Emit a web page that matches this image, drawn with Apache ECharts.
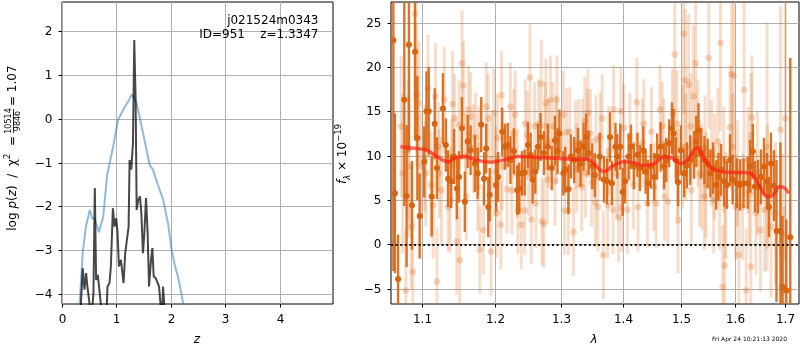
<!DOCTYPE html>
<html>
<head>
<meta charset="utf-8">
<script src="https://cdn.jsdelivr.net/npm/echarts@6/dist/echarts.min.js"></script>
<style>
  html, body { margin: 0; padding: 0; background: #fff; }
  #main { width: 800px; height: 350px; }
</style>
</head>
<body>
<div id="main"></div>
<script>
// left panel: log p(z)
const zBlue = [0.30, 0.34, 0.38, 0.44, 0.51, 0.555, 0.60, 0.636, 0.678, 0.758, 0.83, 0.94, 1.03, 1.10, 1.16, 1.22, 1.28, 1.37, 1.49, 1.61, 1.67, 1.76, 1.86, 1.95, 2.01, 2.07, 2.13, 2.18, 2.23, 2.27];
const pBlue = [-4.6, -3.9, -3.06, -2.46, -2.08, -2.27, -2.28, -2.31, -2.59, -2.23, -1.28, -0.63, -0.02, 0.15, 0.28, 0.40, 0.56, 0.36, -0.33, -1.05, -1.16, -1.5, -1.85, -2.4, -2.95, -3.33, -3.6, -3.9, -4.23, -4.6];

const zDark = [0.332, 0.381, 0.412, 0.443, 0.467, 0.504, 0.54, 0.578, 0.603, 0.627, 0.658, 0.689, 0.714, 0.77, 0.824, 0.836, 0.873, 0.898, 0.935, 0.965, 0.996, 1.021, 1.046, 1.083, 1.107, 1.131, 1.162, 1.193, 1.224, 1.242, 1.273, 1.304, 1.328, 1.353, 1.372, 1.402, 1.433, 1.458, 1.488, 1.513, 1.544, 1.574, 1.599, 1.636, 1.661, 1.685, 1.722, 1.759, 1.784, 1.808, 1.833, 1.857, 1.882, 1.90];
const pDark = [-4.6, -3.41, -3.90, -3.52, -3.83, -4.2, -4.6, -3.98, -1.58, -3.68, -3.56, -3.52, -4.23, -4.6, -4.23, -3.83, -3.75, -3.37, -2.04, -2.46, -2.27, -2.61, -3.37, -3.22, -3.49, -3.75, -3.07, -2.76, -2.46, -0.94, -1.16, -0.55, 1.80, 0.43, -2.08, -1.85, -1.77, -2.15, -3.07, -2.61, -1.81, -2.61, -3.83, -3.22, -2.95, -3.60, -3.64, -3.75, -3.83, -4.2, -4.6, -3.83, -4.3, -4.6];

const pdzXTicks = [0, 1, 2, 3, 4];
const pdzYTicks = [-4, -3, -2, -1, 0, 1, 2];

// right panel: spectrum, rows are [lambda, flux, err]
const specPoints = [
  [1.063, 23.0, 26], [1.065, 5.75, 9], [1.069, -3.9, 5], [1.077, 16.3, 12], [1.080, 5.45, 8], [1.083, 22.5, 12], [1.087, 4.4, 5], [1.091, 21.7, 10], [1.094, 12.0, 7], [1.097, 3.2, 4.8],
  [1.103, 9.3, 4], [1.106, 15.0, 4.5], [1.109, 15.0, 5], [1.113, 5.4, 4.5], [1.117, 13.6, 4], [1.120, 8.6, 3.5], [1.128, 15.3, 4], [1.132, 11.2, 3], [1.135, 7.4, 3.2], [1.139, 7.1, 3],
  [1.143, 9.9, 3.1], [1.147, 6.3, 3.5], [1.150, 7.6, 2.9], [1.154, 13.1, 3.5], [1.158, 4.8, 3.4], [1.162, 11.6, 3], [1.166, 10.6, 2.8], [1.172, 9.1, 3.2], [1.176, 8.0, 2.9], [1.181, 13.5, 3.1],
  [1.185, 7.4, 3], [1.188, 10.8, 2.8], [1.191, 4.2, 3.4], [1.193, 5.6, 3], [1.202, 6.7, 3],
  [1.205, 7.6, 2.8], [1.211, 12.7, 2.7], [1.215, 11.0, 2.6], [1.219, 11.2, 2.5], [1.223, 9.5, 2.7], [1.228, 10.5, 2.6], [1.233, 6.1, 2.8], [1.236, 6.3, 2.9], [1.240, 8.0, 2.5], [1.244, 8.1, 2.6],
  [1.249, 11.2, 2.6], [1.253, 10.1, 2.5], [1.256, 7.3, 2.7], [1.260, 8.2, 2.5], [1.264, 11.0, 2.6], [1.268, 12.1, 2.7], [1.273, 10.3, 2.5], [1.279, 11.0, 2.6], [1.285, 8.6, 2.5], [1.290, 11.7, 2.8],
  [1.294, 10.5, 2.6], [1.297, 12.5, 2.7], [1.303, 8.0, 2.5], [1.306, 8.4, 2.6], [1.311, 6.2, 2.8], [1.315, 9.9, 2.5], [1.320, 9.5, 2.6], [1.326, 10.6, 2.5], [1.330, 9.1, 2.6], [1.335, 11.0, 2.7],
  [1.339, 12.1, 2.6], [1.343, 10.3, 2.5], [1.349, 8.8, 2.6], [1.353, 7.8, 2.5], [1.361, 9.9, 2.7], [1.368, 7.3, 2.6],
  [1.373, 7.1, 2.6], [1.378, 12.1, 2.8], [1.381, 6.9, 2.5], [1.387, 11.0, 2.7], [1.390, 9.9, 2.5], [1.395, 11.0, 2.6], [1.399, 5.9, 2.7], [1.403, 7.1, 2.5], [1.409, 9.9, 2.6], [1.413, 11.0, 2.5],
  [1.418, 8.8, 2.6], [1.424, 10.1, 2.5], [1.428, 8.6, 2.6], [1.434, 10.6, 2.7], [1.438, 8.2, 2.5], [1.442, 6.9, 2.6], [1.447, 8.8, 2.5], [1.453, 7.6, 2.7], [1.458, 9.9, 2.6], [1.464, 11.0, 2.8],
  [1.470, 8.8, 2.6], [1.474, 9.5, 2.5], [1.479, 11.4, 2.7], [1.484, 13.1, 2.9], [1.487, 12.5, 2.8], [1.491, 9.5, 2.6], [1.495, 7.0, 2.7], [1.500, 10.6, 2.8], [1.506, 8.0, 2.7], [1.511, 8.9, 2.6],
  [1.517, 9.5, 2.8], [1.524, 10.1, 2.7], [1.528, 11.6, 2.9], [1.532, 12.9, 3.0], [1.537, 10.3, 2.8], [1.543, 9.5, 2.7],
  [1.549, 9.1, 2.8], [1.554, 8.0, 2.7], [1.559, 8.6, 2.9], [1.565, 6.7, 2.8], [1.569, 7.6, 2.7], [1.574, 8.4, 2.9], [1.580, 7.1, 2.8], [1.585, 6.7, 2.7], [1.591, 9.5, 2.9], [1.596, 7.3, 2.8],
  [1.604, 6.9, 2.8], [1.610, 6.7, 2.9], [1.617, 6.9, 2.8], [1.625, 6.9, 2.9], [1.630, 8.8, 3.0], [1.635, 10.5, 3.1], [1.639, 6.5, 2.9], [1.645, 6.5, 3.0], [1.651, 7.6, 3.1], [1.657, 8.8, 3.2],
  [1.663, 7.1, 3.2], [1.667, 4.2, 3.4], [1.671, 9.1, 3.5], [1.677, 6.6, 4], [1.682, 1.5, 8], [1.690, 1.5, 10], [1.694, -4.8, 8], [1.702, -5.2, 8], [1.710, 0.8, 20.2]
];

const otherPoints = [
  [1.073, 13.3, 8], [1.075, 8.0, 9], [1.079, -5.2, 7], [1.082, 10.6, 8], [1.083, 8.8, 8], [1.086, 2.0, 7], [1.088, -3.1, 6], [1.091, 26.0, 10], [1.093, 16.8, 8], [1.096, 15.9, 7], [1.099, 8.8, 6],
  [1.104, 9.7, 6], [1.105, 8.0, 6], [1.108, 17.6, 6], [1.112, 6.7, 6], [1.115, 4.4, 6], [1.118, 16.7, 6], [1.120, -4.2, 6], [1.122, 11.0, 5], [1.123, 8.0, 5], [1.126, 6.1, 6],
  [1.130, 16.3, 6], [1.135, 4.2, 5], [1.138, 5.0, 6], [1.140, 9.1, 5], [1.141, 15.8, 6], [1.144, 14.2, 5], [1.147, 0.3, 6], [1.150, 13.5, 5], [1.151, -1.8, 6], [1.154, 20.4, 6],
  [1.156, 17.9, 5], [1.159, 9.9, 5], [1.160, 5.4, 5], [1.163, 15.2, 5], [1.166, 14.4, 5], [1.170, 10.8, 5], [1.173, 12.1, 5], [1.176, 6.5, 5], [1.177, 10.5, 5], [1.179, -0.6, 5],
  [1.184, 1.6, 5], [1.188, 15.5, 5], [1.191, 14.2, 5], [1.195, -0.8, 5], [1.196, 9.5, 5], [1.199, 14.8, 5],
  [1.202, 8.2, 5], [1.203, 3.5, 5], [1.204, 12.0, 5], [1.209, 2.2, 5], [1.210, 16.8, 5], [1.211, 8.8, 5], [1.218, 6.2, 5], [1.223, 15.5, 5], [1.225, 6.1, 5], [1.228, 12.5, 5],
  [1.230, 14.6, 5], [1.233, 8.0, 5], [1.234, 3.9, 5], [1.239, 2.2, 5], [1.244, 3.8, 5], [1.245, 13.6, 5], [1.248, 12.3, 5], [1.250, 8.2, 5], [1.252, 18.8, 6], [1.254, 2.8, 5],
  [1.259, 13.3, 5], [1.261, 4.6, 5], [1.265, 13.6, 5], [1.269, 18.1, 5], [1.270, 2.6, 5], [1.273, 2.3, 5], [1.275, 13.3, 5], [1.276, 15.9, 5], [1.278, 7.3, 5], [1.280, 11.4, 5],
  [1.283, 16.3, 5], [1.287, 13.3, 5], [1.290, 7.1, 5], [1.292, 11.8, 5], [1.293, 16.3, 5],
  [1.303, 14.6, 5], [1.305, 3.8, 5], [1.308, 12.6, 5], [1.311, 3.8, 5], [1.313, 12.7, 5], [1.319, 1.4, 5], [1.322, 11.2, 5], [1.324, 8.6, 5], [1.327, 11.4, 5], [1.332, 6.5, 5],
  [1.333, 11.4, 5], [1.337, 13.9, 5], [1.338, 8.0, 5], [1.341, 12.5, 5], [1.342, 14.8, 5], [1.346, 12.5, 5], [1.348, 7.0, 5], [1.354, 4.7, 5], [1.355, 11.8, 5], [1.358, 4.2, 5],
  [1.362, 12.1, 5], [1.365, 14.2, 5], [1.367, -1.2, 5],
  [1.374, 4.4, 6], [1.376, 10.6, 5], [1.383, 3.9, 5], [1.384, 15.2, 5], [1.389, 8.0, 5], [1.392, 3.0, 5], [1.396, 15.0, 5], [1.397, 4.1, 5], [1.401, 13.1, 5], [1.407, 3.9, 5],
  [1.411, 12.1, 5], [1.417, 6.7, 5], [1.423, 16.0, 5], [1.425, 4.2, 5], [1.432, 11.4, 5], [1.435, 13.6, 5], [1.441, 4.6, 5], [1.448, 12.7, 5], [1.452, 6.5, 5], [1.456, 4.6, 5],
  [1.463, 15.2, 5], [1.467, 13.3, 5], [1.470, 11.4, 5], [1.471, 5.4, 5], [1.477, 4.8, 5], [1.485, 14.8, 5], [1.489, 21.4, 7], [1.493, 13.6, 6], [1.494, 8.0, 5], [1.495, 2.7, 6],
  [1.503, 11.0, 7], [1.505, 23.7, 9], [1.508, 18.5, 8], [1.509, 11.0, 6], [1.514, 18.0, 8], [1.518, 13.3, 6], [1.519, 6.1, 6], [1.523, 16.7, 8], [1.527, 20.4, 9], [1.531, 12.5, 6],
  [1.534, 8.0, 6], [1.538, 7.6, 6], [1.543, 5.4, 6], [1.544, 10.8, 6], [1.546, 6.7, 6], [1.551, 21.0, 8], [1.556, 10.3, 6], [1.560, 5.0, 6], [1.562, 8.8, 6], [1.568, 11.6, 6],
  [1.571, 5.4, 6], [1.573, 22.7, 10], [1.577, -4.8, 7], [1.579, 9.5, 6], [1.581, -2.4, 7], [1.583, 4.4, 6], [1.591, 13.2, 7], [1.594, 19.2, 12], [1.596, 11.0, 6], [1.598, 19.0, 12],
  [1.602, 4.2, 6], [1.605, 8.0, 6], [1.608, -1.2, 7], [1.615, 4.2, 6], [1.618, 17.4, 12], [1.622, -5.2, 7], [1.626, 9.5, 6], [1.628, 5.9, 6], [1.631, -2.5, 8], [1.632, 12.3, 7],
  [1.633, 14.3, 7], [1.641, 3.5, 7], [1.644, 8.0, 7], [1.650, 1.6, 7], [1.658, 3.9, 7], [1.663, 11.0, 14], [1.664, 6.5, 7], [1.671, 2.0, 8], [1.680, 3.5, 8], [1.690, 12.9, 14],
  [1.694, 1.2, 9], [1.697, -4.8, 9], [1.700, 14.2, 16]
];

const modelWave = [1.072, 1.093, 1.107, 1.120, 1.135, 1.143, 1.157, 1.175, 1.194, 1.213, 1.233, 1.263, 1.293, 1.314, 1.341, 1.351, 1.368, 1.384, 1.400, 1.418, 1.435, 1.453, 1.471, 1.485, 1.500, 1.512, 1.522, 1.531, 1.540, 1.556, 1.574, 1.593, 1.618, 1.635, 1.651, 1.661, 1.671, 1.680, 1.687, 1.697, 1.707];
const modelFlux = [11.0, 10.8, 10.6, 9.9, 9.3, 9.7, 9.9, 9.5, 9.25, 9.5, 9.9, 9.8, 9.7, 9.6, 9.6, 9.1, 8.2, 8.9, 9.3, 9.2, 8.9, 9.1, 9.9, 9.7, 9.1, 9.5, 10.5, 10.9, 9.9, 8.6, 8.2, 8.1, 8.1, 7.8, 6.3, 5.45, 5.4, 5.9, 6.5, 6.4, 5.75];

const specXTicks = [1.1, 1.2, 1.3, 1.4, 1.5, 1.6, 1.7];
const specYTicks = [-5, 0, 5, 10, 15, 20, 25];

const FONT = 'DejaVu Sans';
const gridColor = '#b0b0b0';
const orange = '#d9640f';
const fmt = v => String(v).replace('-', '\u2212');

const specXMin = Math.log(1.06), specXMax = Math.log(1.728);
const specYMin = -6.727, specYMax = 27.32;
const pdzYMin = -4.228, pdzYMax = 2.668;

// gridlines, ticks and tick labels drawn through the axis scales
function axisDecor(idx, xTicks, yTicks, fx, xMin, yMin) {
  const items = xTicks.map(v => [fx(v), yMin, 0]).concat(yTicks.map(v => [xMin, v, 1]));
  const labels = xTicks.concat(yTicks).map(fmt);
  return {
    type: 'custom', xAxisIndex: idx, yAxisIndex: idx, silent: true, clip: false, z: 1,
    data: items,
    renderItem(params, api) {
      const cs = params.coordSys;
      const pt = api.coord([api.value(0), api.value(1)]);
      const txt = labels[params.dataIndex];
      const tstyle = { text: txt, font: '12px "' + FONT + '"', fill: '#000', verticalAlign: 'middle' };
      if (api.value(2) === 0) {
        const x = Math.round(pt[0]) + 0.5, b = cs.y + cs.height;
        return { type: 'group', children: [
          { type: 'line', shape: { x1: x, y1: cs.y, x2: x, y2: b }, style: { stroke: gridColor, lineWidth: 1 } },
          { type: 'line', shape: { x1: x, y1: b, x2: x, y2: b + 3.5 }, style: { stroke: '#000', lineWidth: 1 } },
          { type: 'text', x: x, y: b + 16, style: Object.assign(tstyle, { align: 'center' }) }
        ] };
      }
      const y = Math.round(pt[1]) + 0.5, l = cs.x;
      return { type: 'group', children: [
        { type: 'line', shape: { x1: l, y1: y, x2: l + cs.width, y2: y }, style: { stroke: gridColor, lineWidth: 1 } },
        { type: 'line', shape: { x1: l - 3.5, y1: y, x2: l, y2: y }, style: { stroke: '#000', lineWidth: 1 } },
        { type: 'text', x: l - 9.5, y: y, style: Object.assign(tstyle, { align: 'right' }) }
      ] };
    }
  };
}

function errorBars(rows, barColor, dotColor, barW, r, z) {
  return {
    type: 'custom', xAxisIndex: 1, yAxisIndex: 1, clip: true, silent: true, z: z,
    data: rows.map(d => [Math.log(d[0]), d[1], d[2]]),
    encode: { x: 0, y: 1 },
    renderItem(params, api) {
      const x = api.value(0), y = api.value(1), e = api.value(2);
      const p = api.coord([x, y]);
      const lo = api.coord([x, y - e]);
      const hi = api.coord([x, y + e]);
      return { type: 'group', children: [
        { type: 'line', shape: { x1: p[0], y1: lo[1], x2: p[0], y2: hi[1] }, style: { stroke: barColor, lineWidth: barW } },
        { type: 'circle', shape: { cx: p[0], cy: p[1], r: r }, style: { fill: dotColor } }
      ] };
    }
  };
}

const chart = echarts.init(document.getElementById('main'), null, { renderer: 'canvas' });

const txt12 = '12px "' + FONT + '"';

const option = {
  animation: false,
  backgroundColor: '#fff',
  textStyle: { fontFamily: FONT },
  grid: [
    { left: 62, top: 2, width: 271, height: 302, show: true, borderColor: '#000', borderWidth: 1, backgroundColor: 'transparent', outerBoundsMode: 'none' },
    { left: 391, top: 2, width: 408, height: 302, show: true, borderColor: '#000', borderWidth: 1, backgroundColor: 'transparent', outerBoundsMode: 'none' }
  ],
  xAxis: [
    { gridIndex: 0, type: 'value', min: 0, max: 4.98, show: false },
    { gridIndex: 1, type: 'value', min: specXMin, max: specXMax, show: false }
  ],
  yAxis: [
    { gridIndex: 0, type: 'value', min: pdzYMin, max: pdzYMax, show: false },
    { gridIndex: 1, type: 'value', min: specYMin, max: specYMax, show: false }
  ],
  graphic: [
    { type: 'text', z: 100, x: 318.5, y: 20.5, style: { text: 'j021524m0343', font: txt12, fill: '#000', align: 'right', verticalAlign: 'middle' } },
    { type: 'text', z: 100, x: 318.5, y: 35, style: { text: 'ID=951    z=1.3347', font: txt12, fill: '#000', align: 'right', verticalAlign: 'middle' } },
    { type: 'text', z: 100, x: 197, y: 340, style: { text: 'z', font: 'italic ' + txt12, fill: '#000', align: 'center', verticalAlign: 'middle' } },
    { type: 'text', z: 100, x: 594, y: 340, style: { text: '\u03bb', font: 'italic ' + txt12, fill: '#000', align: 'center', verticalAlign: 'middle' } },
    { type: 'text', z: 100, x: 787, y: 339.5, style: { text: 'Fri Apr 24 10:21:13 2020', font: '6px "' + FONT + '"', fill: '#000', align: 'right', verticalAlign: 'middle' } },
    {
      type: 'group', z: 100, x: 12.5, y: 121, rotation: Math.PI / 2,
      children: [
        { type: 'text', x: -15, y: 0, style: {
          text: 'log {i|p}({i|z})  /  \u03c7{sup|2}  =', fontFamily: FONT, fontSize: 12, fill: '#000', align: 'right', verticalAlign: 'middle',
          rich: { i: { fontFamily: FONT, fontSize: 12, fontStyle: 'italic' }, sup: { fontFamily: FONT, fontSize: 8.5, verticalAlign: 'top', lineHeight: 18 } } } },
        { type: 'text', x: 0, y: -3.5, style: { text: '10514', font: '8px "' + FONT + '"', fill: '#000', align: 'center', verticalAlign: 'middle' } },
        { type: 'line', shape: { x1: -12, y1: 1, x2: 12, y2: 1 }, style: { stroke: '#000', lineWidth: 0.8 } },
        { type: 'text', x: 0, y: 5.5, style: { text: '9846', font: '8px "' + FONT + '"', fill: '#000', align: 'center', verticalAlign: 'middle' } },
        { type: 'text', x: 15, y: 0, style: { text: '= 1.07', font: txt12, fill: '#000', align: 'left', verticalAlign: 'middle' } }
      ]
    },
    {
      type: 'text', z: 100, x: 343, y: 154, rotation: Math.PI / 2,
      style: {
        text: '{i|f}{sub|\u03bb} \u00d7 10{sup|\u221219}', fontFamily: FONT, fontSize: 12, fill: '#000', align: 'center', verticalAlign: 'middle',
        rich: {
          i: { fontFamily: FONT, fontSize: 12, fontStyle: 'italic' },
          sub: { fontFamily: FONT, fontSize: 8.5, fontStyle: 'italic', verticalAlign: 'bottom', lineHeight: 18 },
          sup: { fontFamily: FONT, fontSize: 8.5, verticalAlign: 'top', lineHeight: 18 }
        }
      }
    }
  ],
  series: [
    axisDecor(0, pdzXTicks, pdzYTicks, v => v, 0, pdzYMin),
    axisDecor(1, specXTicks, specYTicks, v => Math.log(v), specXMin, specYMin),
    {
      type: 'line', xAxisIndex: 0, yAxisIndex: 0, showSymbol: false, clip: true, z: 2,
      lineStyle: { color: 'rgba(31,119,180,0.5)', width: 2 },
      data: zBlue.map((z, i) => [z, pBlue[i]])
    },
    {
      type: 'line', xAxisIndex: 0, yAxisIndex: 0, showSymbol: false, clip: true, z: 3,
      lineStyle: { color: 'rgba(0,0,0,0.72)', width: 2 },
      data: zDark.map((z, i) => [z, pDark[i]])
    },
    errorBars(otherPoints, 'rgba(217,100,15,0.22)', 'rgba(217,100,15,0.25)', 3, 3.3, 2),
    errorBars(specPoints, 'rgba(217,100,15,0.9)', orange, 2.4, 3, 3),
    {
      type: 'line', xAxisIndex: 1, yAxisIndex: 1, showSymbol: false, clip: true, smooth: 0.4, z: 4,
      lineStyle: { color: 'rgba(255,25,15,0.65)', width: 3.5 },
      data: modelWave.map((w, i) => [Math.log(w), modelFlux[i]]),
      markLine: {
        silent: true, symbol: 'none', label: { show: false },
        lineStyle: { color: '#111', type: [2, 2.6], width: 2 },
        data: [{ yAxis: 0 }]
      }
    }
  ]
};

chart.setOption(option);
</script>
</body>
</html>
